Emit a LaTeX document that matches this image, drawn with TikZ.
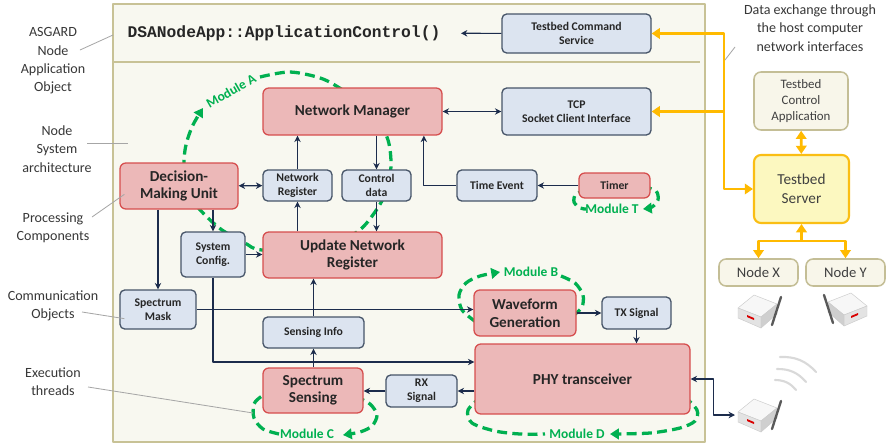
\documentclass[tikz,border=0pt]{standalone}
\usepackage{fontspec}
\setmainfont{Carlito}
\setmonofont{Liberation Mono}
\usetikzlibrary{arrows.meta}
\definecolor{procfill}{RGB}{236,184,184}
\definecolor{procdraw}{RGB}{214,78,78}
\definecolor{objfill}{RGB}{220,228,240}
\definecolor{objdraw}{RGB}{70,84,104}
\definecolor{arrowc}{RGB}{28,44,76}
\definecolor{modgreen}{RGB}{0,176,80}
\definecolor{busorange}{RGB}{255,186,0}
\definecolor{panelfill}{RGB}{248,248,240}
\definecolor{paneldraw}{RGB}{200,194,150}
\definecolor{srvfill}{RGB}{252,248,192}
\definecolor{srvdraw}{RGB}{250,190,20}
\definecolor{hostfill}{RGB}{248,246,234}
\definecolor{hostdraw}{RGB}{196,190,150}
\tikzset{
	boxsize/.style n args={2}{minimum width=#1*0.03cm, minimum height=#2*0.03cm},
	proc/.style={draw=procdraw, fill=procfill, line width=1.1pt, rounded corners=5pt, inner sep=0pt, align=center, text=black!85, font=\bfseries\fontsize{13}{15}\selectfont},
	obj/.style={draw=objdraw, fill=objfill, line width=1.1pt, rounded corners=4pt, inner sep=0pt, align=center, text=black!85, font=\bfseries\fontsize{10}{12}\selectfont},
	host/.style={draw=hostdraw, fill=hostfill, line width=1.3pt, rounded corners=6pt, inner sep=0pt, align=center, text=black!75, font=\fontsize{12.5}{15}\selectfont},
	flow/.style={draw=arrowc, line width=1pt, ->},
	module/.style={draw=modgreen, line width=2.8pt, dash pattern=on 8.5pt off 4.5pt, >={Triangle[length=7.5pt,width=9pt]}},
	modlabel/.style={text=modgreen, inner sep=0pt, font=\bfseries\fontsize{11.5}{13}\selectfont},
	bus/.style={draw=busorange, line width=2.4pt, >={Triangle[length=7pt,width=9pt]}},
	leader/.style={draw=gray!70, line width=0.7pt},
	note/.style={align=center, text=black!78, inner sep=2pt, font=\fontsize{12}{15.6}\selectfont},
	wave/.style={draw=gray!30, line width=1.8pt, line cap=round},
	pics/router/.style={code={
		\filldraw[fill=gray!6, draw=gray!40, line width=0.4pt] (-22,-4) -- (-6,-17) -- (17,-8) -- (1,5) -- cycle;
		\filldraw[fill=gray!22, draw=gray!40, line width=0.4pt] (-22,-4) -- (1,5) -- (1,16) -- (-22,6) -- cycle;
		\filldraw[fill=gray!38, draw=gray!40, line width=0.4pt] (1,5) -- (17,-8) -- (17,2) -- (1,16) -- cycle;
		\fill[red!85!black] (-13,3) -- (-6,6) -- (-6,8) -- (-13,5) -- cycle;
		\draw[black!65, line width=2pt, line cap=round] (12,13) -- (21,-15);
	}}
}

\begin{document}
\begin{tikzpicture}[x=0.03cm, y=-0.03cm, line join=round, >={Stealth[length=5.5pt,width=5.5pt]}]
	\fill[white] (0,0) rectangle (887,445);
	\useasboundingbox (0,0) rectangle (887,445);
	\draw[draw=paneldraw, fill=panelfill, line width=1.5pt] (113,4) rectangle (705,442);
	\draw[draw=paneldraw, line width=1.5pt] (113,62) -- (700,62);

	% threads
	\draw[module,->] plot[smooth] coordinates {(183,185) (185,150) (192,127) (203,108)};
	\node[modlabel, rotate=30] (labA) at (231,91) {Module A};
	\draw[module] plot[smooth] coordinates {(260,77) (290,72) (323,79) (350,95) (375,115) (388,140) (391,165) (387,190) (375,212) (357,232) (320,248) (262,250) (245,243) (222,230) (205,215) (190,198) (183,185)};
	\draw[module,->] plot[smooth] coordinates {(476,322) (462,310) (459,295) (466,283) (480,276) (500,272)};
	\node[modlabel] (labB) at (531,272) {Module B};
	\draw[module] plot[smooth] coordinates {(561,276) (575,283) (583,295) (582,307) (574,315)};
	\draw[module,->] plot[smooth] coordinates {(355,396) (370,404) (377,415) (372,426) (360,432) (343,435)};
	\node[modlabel] (labC) at (307,434) {Module C};
	\draw[module] plot[smooth] coordinates {(279,434) (263,429) (254,418) (254,404) (262,396) (272,392)};
	\draw[module] plot[smooth] coordinates {(482,396) (468,410) (472,423) (495,431) (520,434) (545,434)};
	\node[modlabel] (labD) at (577,434) {Module D};
	\draw[module,->] plot[smooth] coordinates {(684,396) (697,410) (695,421) (680,428) (650,433) (610,434)};
	\draw[module] plot[smooth] coordinates {(588,190) (576,194) (574,202) (580,208) (586,209)};
	\node[modlabel] (labT) at (612,209) {Module T};
	\draw[module,->] plot[smooth] coordinates {(642,186) (656,191) (658,200) (652,207) (643,209)};

	% components
	\node[font=\ttfamily\bfseries\fontsize{13.9}{16}\selectfont, text=black!85] (ctrl) at (284,33) {DSANodeApp::ApplicationControl()};
	\node[obj, boxsize={149}{39}] (TCS) at (576.5,33.5) {Testbed Command\\Service};
	\node[obj, boxsize={149}{47}] (TCP) at (576.5,111.5) {TCP\\Socket Client Interface};
	\node[proc, boxsize={179}{47}] (NM) at (352.5,111.5) {Network Manager};
	\node[obj, boxsize={69}{31}] (NR) at (297.5,185.5) {Network\\Register};
	\node[obj, boxsize={69}{31}] (CD) at (376.5,185.5) {Control\\data};
	\node[obj, boxsize={80}{31}] (TE) at (497,185.5) {Time Event};
	\node[proc, boxsize={71}{25}, font=\bfseries\fontsize{10}{12}\selectfont] (TM) at (614.5,185.5) {Timer};
	\node[proc, boxsize={118}{46}] (DMU) at (179,186) {Decision-\\Making Unit};
	\node[obj, boxsize={64}{45}] (SC) at (213,254.5) {System\\Config.};
	\node[proc, boxsize={179}{46}] (UNR) at (352.5,255) {Update Network\\Register};
	\node[obj, boxsize={76}{39}] (SM) at (158,309.5) {Spectrum\\Mask};
	\node[proc, boxsize={102}{46}] (WG) at (525,313) {Waveform\\Generation};
	\node[obj, boxsize={69}{32}] (TX) at (636.5,313) {TX Signal};
	\node[obj, boxsize={101}{31}] (SI) at (313.5,332.5) {Sensing Info};
	\node[proc, boxsize={215}{70}] (PHY) at (582.5,379) {PHY transceiver};
	\node[proc, boxsize={100}{45}] (SS) at (313,390.5) {Spectrum\\Sensing};
	\node[obj, boxsize={71}{32}] (RX) at (421.5,391) {RX\\Signal};

	\draw[flow, shorten >=14pt] (TCS) -- (ctrl);
	\draw[flow, <->] (NM) -- (TCP);
	\draw[flow] (NR) -- (NR |- NM.south);
	\draw[flow] (NM.south -| CD) -- (CD);
	\draw[flow] (TE) -| ([xshift=-16pt]NM.south east);
	\draw[flow] (TM) -- (TE);
	\draw[flow, <->] (DMU) -- (NR);
	\draw[flow] (DMU.south -| SM) -- (SM);
	\draw[flow] (DMU.south -| SC) -- (SC);
	\draw[flow] (SC) -- (SC -| UNR.west);
	\draw[flow] (UNR.north -| NR) -- (NR);
	\draw[flow] (CD) -- (CD |- UNR.north);
	\draw[flow] (SI) -- (SI |- UNR.south);
	\draw[flow] (SS.north -| SI) -- (SI);
	\draw[flow] (SM) -- (SM -| WG.west);
	\draw[flow] (SC) |- ([yshift=14.5pt]PHY.west);
	\draw[flow] (WG) -- (TX);
	\draw[flow] (TX) -- (TX |- PHY.north);
	\draw[flow] (PHY.west |- RX) -- (RX);
	\draw[flow] (RX) -- (RX -| SS.east);

	% host side
	\node[host, boxsize={94}{58}, font=\fontsize{11}{14}\selectfont] (TCA) at (801,101) {Testbed\\Control\\Application};
	\node[host, boxsize={95}{68}, draw=srvdraw, fill=srvfill, line width=1.8pt, font=\fontsize{13}{16}\selectfont] (TS) at (801.5,189) {Testbed\\Server};
	\node[host, boxsize={79}{27}] (NX) at (758.5,272.5) {Node X};
	\node[host, boxsize={79}{27}] (NY) at (845.5,272.5) {Node Y};
	\coordinate (busx) at (724,0);
	\draw[bus, <->] (TCS) -- (TCS -| busx) |- (TS);
	\draw[bus, ->] (TCP -| busx) -- (TCP);
	\draw[bus, <->] (TCA) -- (TS);
	\draw[bus, <-] (TS.south) -- ++(0,17) coordinate (split);
	\draw[bus, ->] (split) -| (NX);
	\draw[bus, ->] (split) -| (NY);

	\pic at (760,312) {router};
	\pic[xscale=-1] at (845,310) {router};
	\pic at (760,416) {router};
	\coordinate (ant) at (735,415);
	\draw[flow, <->] (PHY.east) -- ++(23,0) |- (ant);
	\draw[wave] (780,357) to[bend left=25] (816,372);
	\draw[wave] (777,369) to[bend left=25] (806,382);
	\draw[wave] (775,380) to[bend left=25] (796,390);

	% annotations
	\node[note] (lbAsgard) at (53,61) {ASGARD\\Node\\Application\\Object};
	\node[note] (lbNode) at (57,149) {Node\\System\\architecture};
	\node[note] (lbProc) at (53,228) {Processing\\Components};
	\node[note] (lbComm) at (53,306) {Communication\\Objects};
	\node[note] (lbExec) at (53,382) {Execution\\threads};
	\node[note] (lbData) at (810,28) {Data exchange through\\the host computer\\network interfaces};
	\coordinate (pApp) at (113,35);
	\coordinate (pSys) at (128,143);
	\coordinate (pThread) at (253,413);
	\coordinate (pBus) at (725,60);
	\draw[leader] ([shift={(27,-11)}]lbAsgard.center) -- (pApp);
	\draw[leader] ([shift={(30,-6)}]lbNode.center) -- (pSys);
	\draw[leader] ([shift={(39,-11)}]lbProc.center) -- ([shift={(5,32)}]DMU.north west);
	\draw[leader] ([shift={(29,6)}]lbComm.center) -- ([shift={(5,-11)}]SM.south west);
	\draw[leader] ([shift={(35,5)}]lbExec.center) -- (pThread);
	\draw[leader] ([shift={(-75,19)}]lbData.center) -- (pBus);
\end{tikzpicture}
\end{document}
